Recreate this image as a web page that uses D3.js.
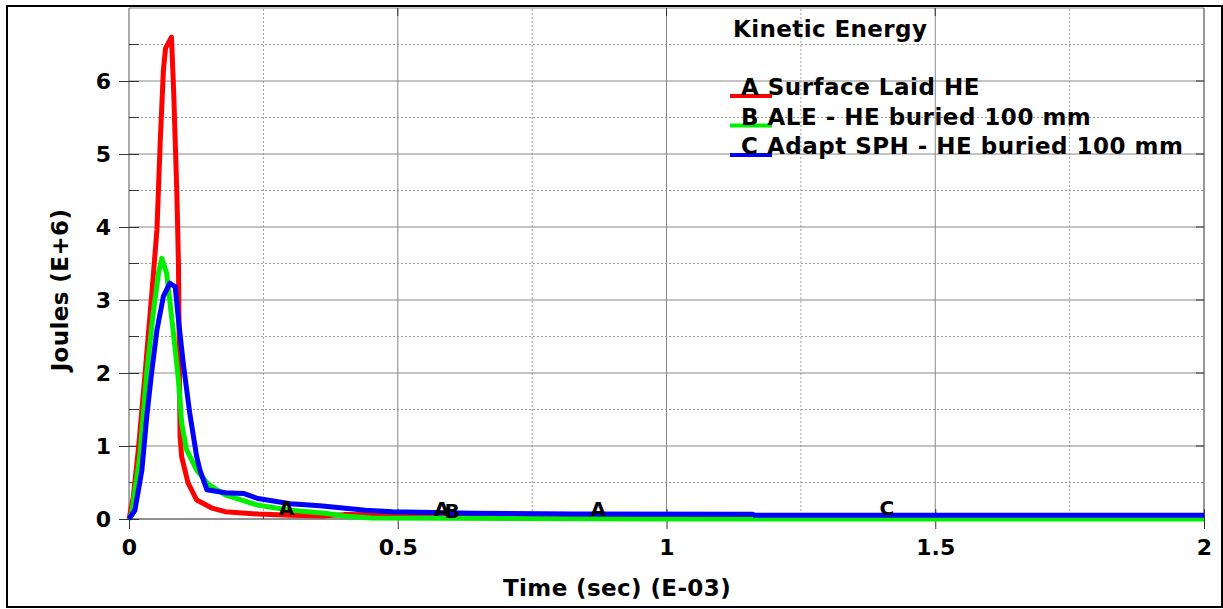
<!DOCTYPE html>
<html><head><meta charset="utf-8">
<script src="https://cdn.jsdelivr.net/npm/d3@7"></script>
<style>
html,body{margin:0;padding:0;background:#fff;}
text{font-family:"DejaVu Sans",sans-serif;font-weight:bold;fill:#000;}
</style></head>
<body>
<svg id="chart" width="1223" height="609"></svg>
<script>
// ---- data ----
const chartTitle = "Kinetic Energy";
const xTitle = "Time (sec) (E-03)";
const yTitle = "Joules (E+6)";
const seriesNames = ["A Surface Laid HE", "B ALE - HE buried 100 mm", "C Adapt SPH - HE buried 100 mm"];
const seriesColors = ["#ff0000", "#00ee00", "#0000ff"];
const xTicks = [0, 0.5, 1, 1.5, 2];
const xTickLabels = ["0", "0.5", "1", "1.5", "2"];
const yTicks = [0, 1, 2, 3, 4, 5, 6];
const yTickLabels = ["0", "1", "2", "3", "4", "5", "6"];

const timeA = [0,0.008,0.018,0.03,0.042,0.052,0.058,0.064,0.068,0.079,0.083,0.089,0.092,0.095,0.098,0.104,0.11,0.126,0.154,0.179,0.24,0.3,0.36,0.4,0.55,0.85,1.2,2.0];
const valA  = [0,0.3,1.0,2.0,3.05,3.96,5.15,6.15,6.45,6.6,5.88,4.47,3.5,1.13,0.85,0.67,0.49,0.26,0.15,0.1,0.068,0.05,0.04,0.06,0.055,0.04,0.03,0.02];

const timeB = [0,0.005,0.02,0.033,0.045,0.055,0.061,0.07,0.082,0.092,0.098,0.107,0.126,0.148,0.179,0.24,0.3,0.365,0.4,0.45,0.6,1.0,2.0];
const valB  = [0,0.08,0.85,2.0,2.82,3.37,3.57,3.37,2.59,1.9,1.31,0.95,0.67,0.47,0.33,0.19,0.12,0.08,0.04,0.015,0.01,0.0,0.0];

const timeC = [0,0.011,0.024,0.033,0.042,0.052,0.064,0.076,0.086,0.092,0.101,0.113,0.126,0.132,0.145,0.179,0.213,0.24,0.3,0.355,0.44,0.49,0.64,0.83,1.16,1.165,2.0];
const valC  = [0,0.12,0.67,1.4,2.0,2.59,3.05,3.23,3.18,2.73,2.13,1.45,0.85,0.67,0.4,0.36,0.35,0.28,0.21,0.18,0.12,0.1,0.08,0.07,0.065,0.05,0.05];

const markLetters = ["A", "A", "B", "A", "C"];
const markTimes   = [0.293, 0.582, 0.601, 0.873, 1.41];
const markValues  = [0.06, 0.045, 0.02, 0.04, 0.06];

// ---- drawing ----
const svg = d3.select("#chart");
const x = d3.scaleLinear().domain([0, 2]).range([129, 1204]);
const y = d3.scaleLinear().domain([0, 7]).range([519, 8]);

// outer frame
svg.append("rect").attr("x", 7).attr("y", 6).attr("width", 1215).attr("height", 601)
  .attr("fill", "none").attr("stroke", "#000").attr("stroke-width", 2);

// minor grid (dotted)
const xMinor = d3.range(0.25, 2, 0.5);
const yMinor = d3.range(0.5, 7, 1);
svg.append("g").selectAll("line").data(xMinor).join("line")
  .attr("x1", d => x(d)).attr("x2", d => x(d)).attr("y1", y(0)).attr("y2", y(7))
  .attr("stroke", "#999").attr("stroke-dasharray", "2,2").attr("stroke-width", 1);
svg.append("g").selectAll("line").data(yMinor).join("line")
  .attr("x1", x(0)).attr("x2", x(2)).attr("y1", d => y(d)).attr("y2", d => y(d))
  .attr("stroke", "#999").attr("stroke-dasharray", "2,2").attr("stroke-width", 1);
// major grid
svg.append("g").selectAll("line").data(xTicks.slice(1, -1)).join("line")
  .attr("x1", d => x(d)).attr("x2", d => x(d)).attr("y1", y(0)).attr("y2", y(7))
  .attr("stroke", "#888").attr("stroke-width", 1);
svg.append("g").selectAll("line").data(yTicks.slice(1).concat([7])).join("line")
  .attr("x1", x(0)).attr("x2", x(2)).attr("y1", d => y(d)).attr("y2", d => y(d))
  .attr("stroke", "#888").attr("stroke-width", 1);

// axes frame lines
svg.append("line").attr("x1", x(0)).attr("x2", x(0)).attr("y1", y(0)).attr("y2", y(7)).attr("stroke", "#555");
svg.append("line").attr("x1", x(2)).attr("x2", x(2)).attr("y1", y(0)).attr("y2", y(7)).attr("stroke", "#333");
svg.append("line").attr("x1", x(0)).attr("x2", x(2)).attr("y1", y(0)).attr("y2", y(0)).attr("stroke", "#222");

// ticks using d3 axes
const gx = svg.append("g").attr("transform", `translate(0,${y(0)})`)
  .call(d3.axisBottom(x).tickValues(xTicks).tickFormat((d, i) => xTickLabels[i]).tickSize(10).tickPadding(10));
gx.select(".domain").remove();
gx.selectAll(".tick line").attr("y1", -10).attr("stroke", "#333");
gx.selectAll("text").attr("font-size", 22).attr("font-family", "DejaVu Sans").attr("font-weight", "bold").attr("fill", "#000");

const gy = svg.append("g").attr("transform", `translate(${x(0)},0)`)
  .call(d3.axisLeft(y).tickValues(yTicks).tickFormat((d, i) => yTickLabels[i]).tickSize(10).tickPadding(8));
gy.select(".domain").remove();
gy.selectAll(".tick line").attr("x1", 10).attr("stroke", "#333");
gy.selectAll("text").attr("font-size", 22).attr("font-family", "DejaVu Sans").attr("font-weight", "bold").attr("fill", "#000");

// minor ticks bottom/left + mirrored on right/top
svg.append("g").selectAll("line").data(xMinor).join("line")
  .attr("x1", d => x(d)).attr("x2", d => x(d)).attr("y1", y(0) - 6).attr("y2", y(0)).attr("stroke", "#333");
svg.append("g").selectAll("line").data(yMinor).join("line")
  .attr("x1", x(0)).attr("x2", x(0) + 10).attr("y1", d => y(d)).attr("y2", d => y(d)).attr("stroke", "#333");
svg.append("g").selectAll("line").data(yTicks.slice(1)).join("line")
  .attr("x1", x(2) - 8).attr("x2", x(2)).attr("y1", d => y(d)).attr("y2", d => y(d)).attr("stroke", "#333");
svg.append("g").selectAll("line").data(xTicks.slice(1, -1)).join("line")
  .attr("x1", d => x(d)).attr("x2", d => x(d)).attr("y1", y(7)).attr("y2", y(7) + 8).attr("stroke", "#333");

// curves
const seriesT = [timeA, timeB, timeC];
const seriesV = [valA, valB, valC];
const line = d3.line().x(d => x(d[0])).y(d => y(d[1]));
seriesT.forEach((ts, i) => {
  const pts = ts.map((t, j) => [t, seriesV[i][j]]);
  svg.append("path").datum(pts).attr("d", line).attr("fill", "none")
    .attr("stroke", seriesColors[i]).attr("stroke-width", 5).attr("stroke-linejoin", "round");
});

// curve letter markers
svg.append("g").selectAll("text").data(markLetters).join("text")
  .attr("x", (d, i) => x(markTimes[i])).attr("y", (d, i) => y(markValues[i]))
  .attr("text-anchor", "middle").attr("font-size", 20).text(d => d);

// legend
svg.append("text").attr("x", 733).attr("y", 37).attr("font-size", 23).attr("letter-spacing", 0.4).text(chartTitle);
seriesNames.forEach((n, i) => {
  const yy = 96 + i * 29.5;
  svg.append("line").attr("x1", 730).attr("x2", 772).attr("y1", yy).attr("y2", yy)
    .attr("stroke", seriesColors[i]).attr("stroke-width", 4);
  svg.append("text").attr("x", 741).attr("y", yy - 1).attr("font-size", 23).attr("letter-spacing", 0.5).text(n);
});

// axis titles
svg.append("text").attr("x", 617).attr("y", 596).attr("text-anchor", "middle").attr("font-size", 23).attr("letter-spacing", 0.4).text(xTitle);
svg.append("text").attr("transform", "translate(68,290) rotate(-90)").attr("text-anchor", "middle").attr("font-size", 23).attr("letter-spacing", 0.4).text(yTitle);
</script>
</body></html>
